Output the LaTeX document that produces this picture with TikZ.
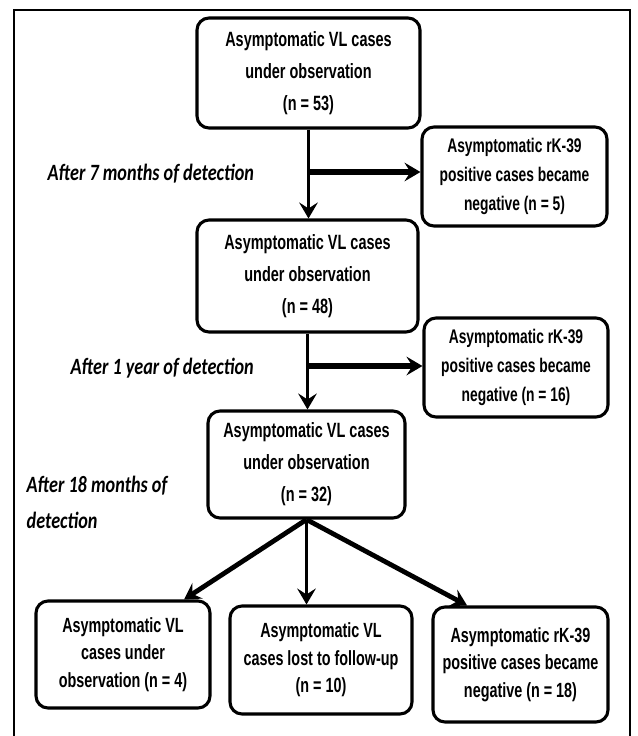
\documentclass[tikz,border=0pt]{standalone}
\usepackage{fontspec}
\usepackage{tikz}
\usetikzlibrary{arrows.meta,calc}
\newfontfamily\boxfont[FakeStretch=0.70]{Liberation Sans}
\newfontfamily\notefont[FakeStretch=0.78]{Carlito}

\tikzset{
  stagebox/.style={draw,line width=2.3pt,rounded corners=9pt,align=center,inner sep=0pt,
    font=\boxfont\bfseries\fontsize{15.5}{24}\selectfont},
  sidebox/.style={stagebox,font=\boxfont\bfseries\fontsize{14.8}{21.5}\selectfont},
  endbox/.style={stagebox,font=\boxfont\bfseries\fontsize{15.4}{20.5}\selectfont},
  note/.style={anchor=west,align=left,font=\notefont\bfseries\itshape\fontsize{17.5}{27}\selectfont},
  flow/.style={line width=2.4pt,-{Stealth[length=12pt,width=14pt,inset=4.5pt]}},
  sideflow/.style={flow,line width=4.2pt},
}

\begin{document}
\begin{tikzpicture}[x=0.75pt,y=-0.75pt]
\useasboundingbox (0,0) rectangle (637,736);
\draw[line width=2.2pt] (14,740) -- (14,10) -- (630,10) -- (630,740);
%
\node[stagebox,minimum width=167.25pt,minimum height=82.5pt] (obs1) at (308.5,73)
  {Asymptomatic VL cases\\under observation\\(n = 53)};
\node[sidebox,minimum width=138.75pt,minimum height=74.25pt] (neg1) at (514.5,176.5)
  {Asymptomatic rK-39\\positive cases became\\negative (n = 5)};
\node[stagebox,minimum width=165.75pt,minimum height=84pt] (obs2) at (307.5,276)
  {Asymptomatic VL cases\\under observation\\(n = 48)};
\node[sidebox,minimum width=138pt,minimum height=74.25pt] (neg2) at (516,367.5)
  {Asymptomatic rK-39\\positive cases became\\negative (n = 16)};
\node[stagebox,minimum width=147.75pt,minimum height=80.25pt] (obs3) at (306.5,464.5)
  {Asymptomatic VL cases\\under observation\\(n = 32)};
%
\node[endbox,minimum width=130.5pt,minimum height=80.25pt] (still) at (123,654.5)
  {Asymptomatic VL\\cases under\\observation (n = 4)};
\node[endbox,minimum width=136.5pt,minimum height=81pt] (lost) at (321,660)
  {Asymptomatic VL\\cases lost to follow-up\\(n = 10)};
\node[endbox,minimum width=131.25pt,minimum height=86.25pt] (neg3) at (520.5,664.5)
  {Asymptomatic rK-39\\positive cases became\\negative (n = 18)};
%
\node[note] (t7) at (43,174) {After 7 months of detection};
\node[note] (t12) at (66,368) {After 1 year of detection};
\node[note] (t18) at (22,502) {After 18 months of\\detection};
%
\coordinate (j1) at (308,172);
\coordinate (j2) at (308,366);
\draw[flow] (obs1.south) -- (obs1.south |- obs2.north);
\draw[sideflow] (j1) -- (j1 -| neg1.west);
\draw[flow] (obs2.south) -- (obs2.south |- obs3.north);
\draw[sideflow] (j2) -- (j2 -| neg2.west);
%
\draw[flow,line width=3.6pt] (obs3.south) -- ($(still.north east)!0.31!(still.north)$);
\draw[flow] (obs3.south) -- (obs3.south |- lost.north);
\draw[flow,line width=3.6pt] (obs3.south) -- ($(neg3.north west)!0.4!(neg3.north)$);
\end{tikzpicture}
\end{document}
